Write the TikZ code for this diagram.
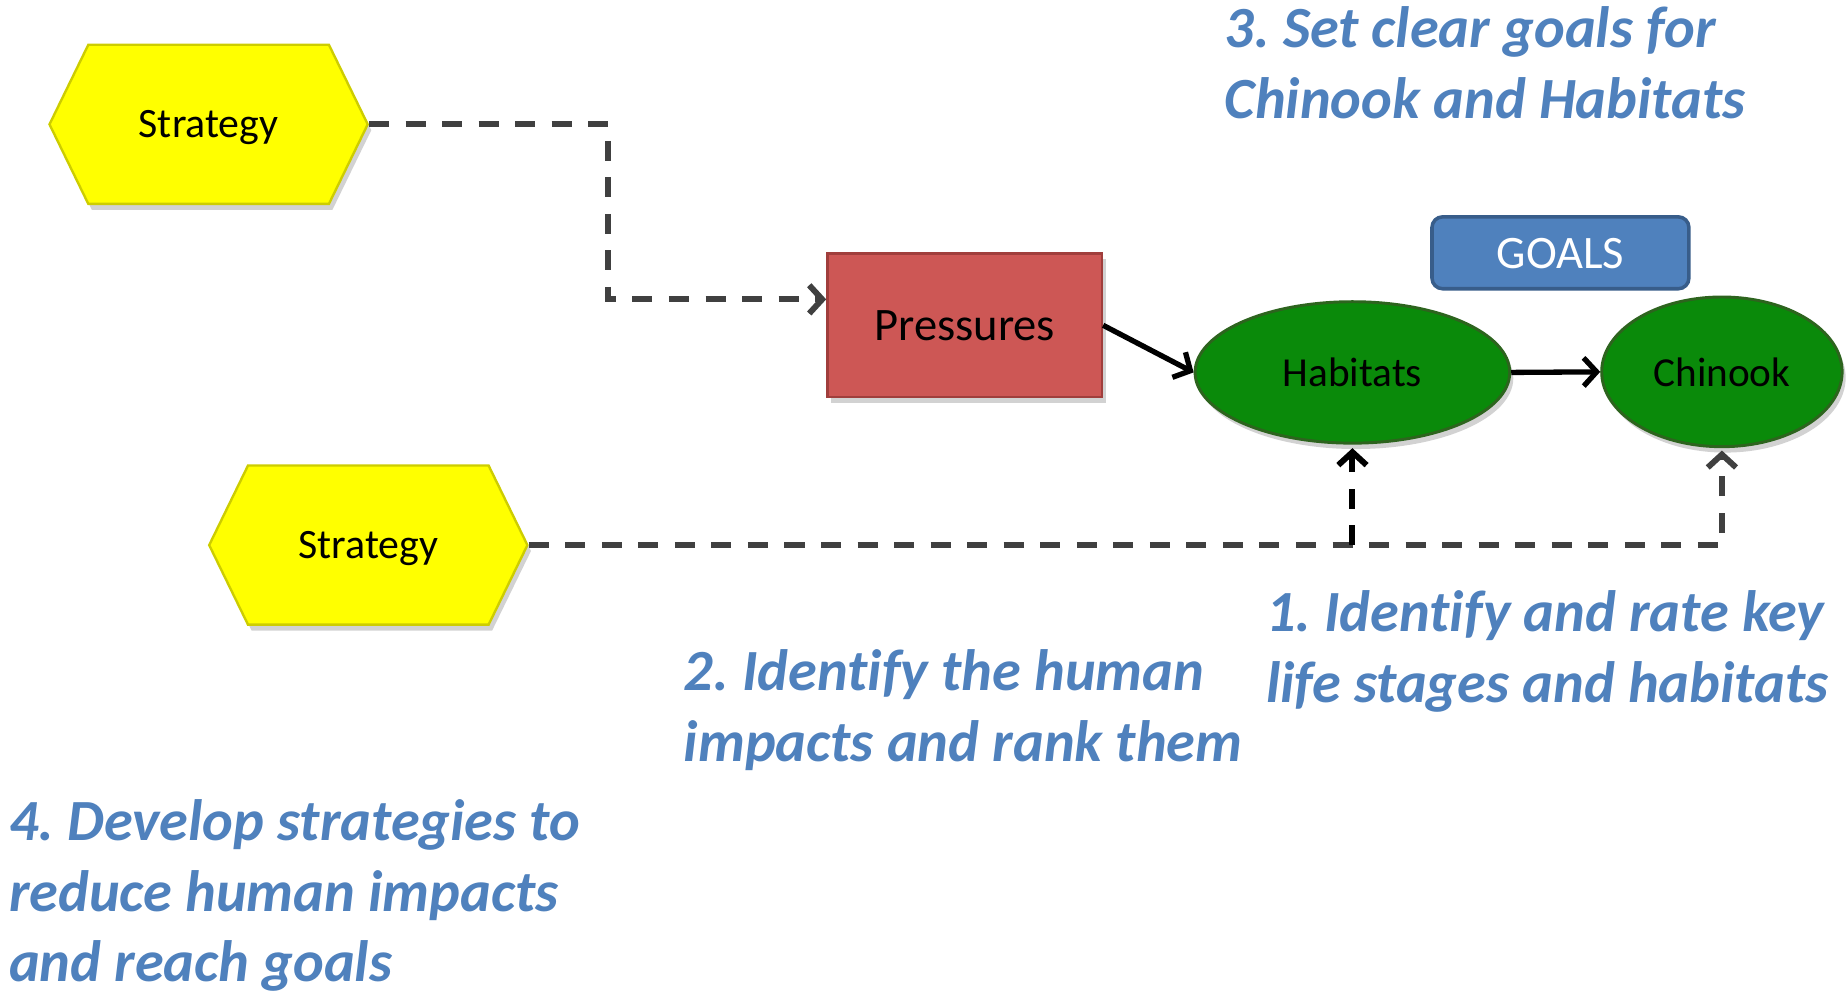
\documentclass[tikz,border=0pt]{standalone}
\usepackage{fontspec}
\setmainfont{Carlito}[Ligatures=NoCommon]
\frenchspacing
\usetikzlibrary{shapes.symbols,shapes.geometric,shadows,arrows.meta}
\definecolor{lblue}{RGB}{79,129,189}
\definecolor{gblue}{RGB}{79,129,189}
\definecolor{gedge}{RGB}{56,93,138}
\definecolor{hexyellow}{RGB}{255,255,0}
\definecolor{hexedge}{RGB}{205,205,0}
\definecolor{pred}{RGB}{205,87,85}
\definecolor{predge}{RGB}{160,62,60}
\definecolor{ogreen}{RGB}{10,138,10}
\definecolor{ogedge}{RGB}{45,100,30}
\definecolor{dgrey}{RGB}{64,64,64}
\tikzset{
  shade/.style={drop shadow={opacity=0.35, shadow xshift=3pt, shadow yshift=-5pt}},
  hexa/.style={signal, signal to=east and west, signal pointer angle=128,
    minimum width=270pt, minimum height=135pt, inner sep=0pt,
    fill=hexyellow, draw=hexedge, line width=2pt, shade,
    font=\fontsize{35.5}{42}\selectfont, text height=23pt, text depth=0pt},
  pressbox/.style={rectangle, minimum width=233pt, minimum height=122pt, inner sep=0pt,
    fill=pred, draw=predge, line width=2pt, shade,
    font=\fontsize{39.5}{46}\selectfont, text height=25pt, text depth=0pt},
  oval/.style={ellipse, inner sep=0pt, fill=ogreen, draw=ogedge, line width=2.5pt, shade,
    font=\fontsize{35}{42}\selectfont, text height=24.5pt, text depth=0pt},
  goalbox/.style={rectangle, rounded corners=9pt, minimum width=218pt, minimum height=61pt,
    inner sep=0pt, fill=gblue, draw=gedge, line width=3pt, text=white,
    font=\fontsize{39.5}{46}\selectfont, text height=26pt, text depth=0pt},
  lbl/.style={anchor=base west, align=left, inner sep=0pt, text=lblue,
    font=\fontsize{49.5}{60}\selectfont\bfseries\itshape},
  dconn/.style={draw=dgrey, line width=5pt, dash pattern=on 17pt off 14pt,
    -{Straight Barb[length=11pt,width=24pt]}},
  sconn/.style={draw=black, line width=4.5pt,
    -{Straight Barb[length=11pt,width=24pt]}},
}
\begin{document}
\begin{tikzpicture}[x=1pt,y=-1pt]
\useasboundingbox[fill=white] (0,0) rectangle (1568,843);

\node[hexa] (s1) at (177,105.5) {Strategy};
\node[hexa] (s2) at (312.5,462.5) {Strategy};
\node[pressbox] (pr) at (818.5,276) {Pressures};
\node[oval, minimum width=267pt, minimum height=120pt] (hab) at (1147.5,316) {Habitats};
\node[oval, minimum width=204pt, minimum height=127pt] (chin) at (1461,315.5) {Chinook};
\node[goalbox] (goals) at (1324,214.5) {GOALS};

\draw[dconn] (s1.east) -- ++(203,0) |- ([yshift=22pt]pr.west);
\draw[sconn] (pr.east) -- (hab.west);
\draw[sconn] (hab.east) -- (chin.west);
\draw[dconn] (s2.east) -| ([yshift=-2pt]chin.south);
\draw[dconn, draw=black] (s2.east -| hab.south) -- ([yshift=-3pt]hab.south);

\node[lbl] (l3) at (1039,100.7) {3. Set clear goals for\\Chinook and Habitats};
\node[lbl] (l1) at (1074,596) {1. Identify and rate key\\life stages and habitats};
\node[lbl] (l2) at (580,646) {2. Identify the human\\impacts and rank them};
\node[lbl] (l4) at (7.5,833) {4. Develop strategies to\\reduce human impacts\\and reach goals};
\end{tikzpicture}
\end{document}
